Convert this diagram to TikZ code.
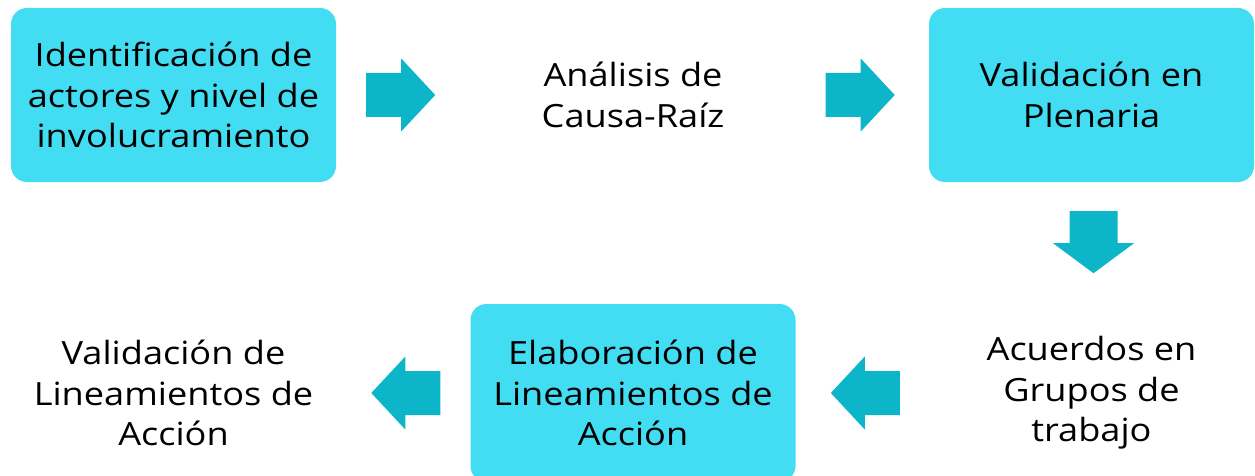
\documentclass[tikz,border=0pt]{standalone}
\usepackage{fontspec}
\setmainfont{Open Sans}[FakeStretch=1.13]
\usepackage{xcolor}
\usetikzlibrary{positioning}

\definecolor{boxcyan}{RGB}{66,221,242}
\definecolor{arrowteal}{RGB}{12,181,199}

\tikzset{
  % block arrow pointing along +x: half shaft, half head, head start, length
  pics/fatarrow/.style n args={4}{code={
      \fill[arrowteal] (0,-#1) -- (#3,-#1) -- (#3,-#2) -- (#4,0) -- (#3,#2) -- (#3,#1) -- (0,#1) -- cycle;
  }}
}

\begin{document}
\begin{tikzpicture}[x=1pt,y=-1pt,
    stage/.style={rounded corners=16pt,minimum width=325pt,minimum height=174pt,inner sep=0pt,align=center,font=\fontsize{32}{40.5}\selectfont},
    filled stage/.style={stage,fill=boxcyan}]

    \useasboundingbox (0,0) rectangle (1255,476);

    % top row
    \node[filled stage] (ident) at (173.5,95) {Identificación de\\actores y nivel de\\involucramiento};
    \node[stage]        (causa) at (633,95)   {Análisis de\\Causa-Raíz};
    \node[filled stage] (plen)  at (1091.5,95) {Validación en\\Plenaria};

    % bottom row
    \node[stage,minimum height=178pt]        (acuer) at (1091.5,393) {Acuerdos en\\Grupos de\\trabajo};
    \node[filled stage,minimum height=178pt] (elab)  at (633,393)    {Elaboración de\\Lineamientos de\\Acción};
    \node[stage,minimum height=178pt]        (vlin)  at (173.5,393)  {Validación de\\Lineamientos de\\Acción};

    % arrows between the stages
    \pic at ([xshift=30pt]ident.east) {fatarrow={22}{36.5}{35}{69}};
    \pic at ([xshift=30pt]causa.east) {fatarrow={22}{36.5}{35}{69}};
    \pic[rotate=-90] at ([xshift=2pt,yshift=-29pt]plen.south) {fatarrow={24}{40.5}{32}{62}};
    \pic[rotate=180] at ([xshift=-29pt]acuer.west) {fatarrow={22}{36.5}{35}{69}};
    \pic[rotate=180] at ([xshift=-30pt]elab.west) {fatarrow={22}{36.5}{35}{69}};

\end{tikzpicture}
\end{document}
